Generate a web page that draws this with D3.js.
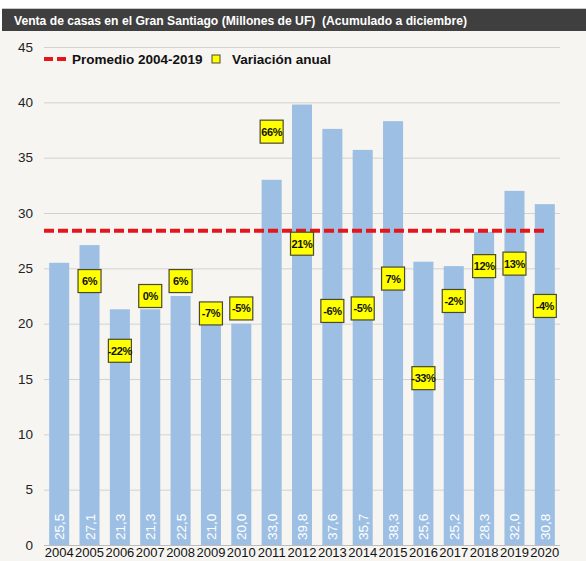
<!DOCTYPE html>
<html><head><meta charset="utf-8">
<script src="https://cdn.jsdelivr.net/npm/d3@7"></script>
<style>html,body{margin:0;padding:0;background:#fff;}svg{display:block;}</style>
</head><body>
<svg id="c" width="586" height="561"></svg>
<script>
const years = ["2004","2005","2006","2007","2008","2009","2010","2011","2012","2013","2014","2015","2016","2017","2018","2019","2020"];
const sales = [25.5,27.1,21.3,21.3,22.5,21.0,20.0,33.0,39.8,37.6,35.7,38.3,25.6,25.2,28.3,32.0,30.8];
const variation = [null,0.06,-0.22,0.00,0.06,-0.07,-0.05,0.66,0.21,-0.06,-0.05,0.07,-0.33,-0.02,0.12,0.13,-0.04];
const average = 28.4;
const yTicks = [0,5,10,15,20,25,30,35,40,45];
const title = "Venta de casas en el Gran Santiago (Millones de UF)  (Acumulado a diciembre)";
const legendItems = ["Promedio 2004-2019","Variación anual"];

const svg = d3.select("#c");
const FONT = "'Liberation Sans', Arial, sans-serif";
svg.append("rect").attr("x",0).attr("y",31).attr("width",586).attr("height",530).attr("fill","#f6f5f1");
svg.append("rect").attr("x",2).attr("y",9).attr("width",584).attr("height",22).attr("fill","#3f3f3f");
svg.append("line").attr("x1",2).attr("x2",586).attr("y1",8.5).attr("y2",8.5).attr("stroke","#c8c8c8");
svg.append("text").attr("x",14).attr("y",25).attr("fill","#fff").attr("font-family",FONT)
  .style("white-space","pre")
  .attr("font-weight","bold").attr("font-size",12.5).attr("textLength",453).attr("lengthAdjust","spacingAndGlyphs").text(title);

const x = d3.scaleBand().domain(years).range([44,560]).paddingInner(0.34).paddingOuter(0.17);
const y = d3.scaleLinear().domain([0,45]).range([545,47]);
const y2 = d3.scaleLinear().domain([-1,1]).range([545,47]);

// grid
const yAxis = d3.axisLeft(y).tickValues(yTicks).tickSize(-(560-44)).tickPadding(11).tickFormat(d3.format("d"));
const gy = svg.append("g").attr("transform","translate(44,0)").call(yAxis);
gy.select(".domain").remove();
gy.selectAll(".tick line").attr("stroke","#d2d2d0").attr("stroke-width",1);
gy.selectAll(".tick text").attr("font-family",FONT).attr("font-size",13.5).attr("fill","#222");

// bars
svg.append("g").selectAll("rect").data(sales).join("rect")
  .attr("x",(d,i)=>x(years[i])).attr("width",x.bandwidth())
  .attr("y",d=>y(d)).attr("height",d=>y(0)-y(d)).attr("fill","#9dbfe4");

// baseline
svg.append("line").attr("x1",44).attr("x2",560).attr("y1",y(0)+0.5).attr("y2",y(0)+0.5).attr("stroke","#bdbdbd");

// bar labels
svg.append("g").selectAll("text").data(sales).join("text")
  .attr("transform",(d,i)=>`translate(${x(years[i])+x.bandwidth()/2+5},${y(0)-5}) rotate(-90)`)
  .attr("fill","#fff").attr("font-family",FONT).attr("font-size",13.5)
  .text(d=>d.toFixed(1).replace(".",","));

// x labels
const xAxis = d3.axisBottom(x).tickSize(0).tickPadding(3);
const gx = svg.append("g").attr("transform",`translate(0,${y(0)})`).call(xAxis);
gx.select(".domain").remove();
gx.selectAll(".tick text").attr("font-family",FONT).attr("font-size",13).attr("fill","#111");

// average line
svg.append("line").attr("x1",44).attr("x2",x(years[years.length-1])+x.bandwidth()/2+2)
  .attr("y1",y(average)).attr("y2",y(average))
  .attr("stroke","#e3161c").attr("stroke-width",4).attr("stroke-dasharray","10,4");

// variation boxes
const vdata = variation.map((v,i)=>({v,yr:years[i]})).filter(d=>d.v!==null);
const vb = svg.append("g").selectAll("g").data(vdata).join("g")
  .attr("transform",d=>`translate(${x(d.yr)+x.bandwidth()/2},${y2(d.v)})`);
vb.append("rect").attr("x",-11.5).attr("y",-11.5).attr("width",23).attr("height",23)
  .attr("fill","#ffff00").attr("stroke","#4a4a30").attr("stroke-width",1.2);
vb.append("text").attr("text-anchor","middle").attr("dy","0.36em")
  .attr("font-family",FONT).attr("font-weight","bold").attr("font-size",11).attr("fill","#111")
  .attr("letter-spacing",-0.4)
  .text(d=>Math.round(d.v*100)+"%");

// legend
const lg = svg.append("g");
lg.append("line").attr("x1",44).attr("x2",66).attr("y1",59).attr("y2",59)
  .attr("stroke","#e3161c").attr("stroke-width",4).attr("stroke-dasharray","9,4");
lg.append("text").attr("x",72).attr("y",64).attr("font-family",FONT).attr("font-weight","bold")
  .attr("font-size",13.5).attr("fill","#111").text(legendItems[0]);
lg.append("rect").attr("x",212).attr("y",55).attr("width",8).attr("height",8)
  .attr("fill","#ffff00").attr("stroke","#4a4a30").attr("stroke-width",1);
lg.append("text").attr("x",232).attr("y",64).attr("font-family",FONT).attr("font-weight","bold")
  .attr("font-size",13.5).attr("fill","#111").text(legendItems[1]);
</script>
</body></html>
